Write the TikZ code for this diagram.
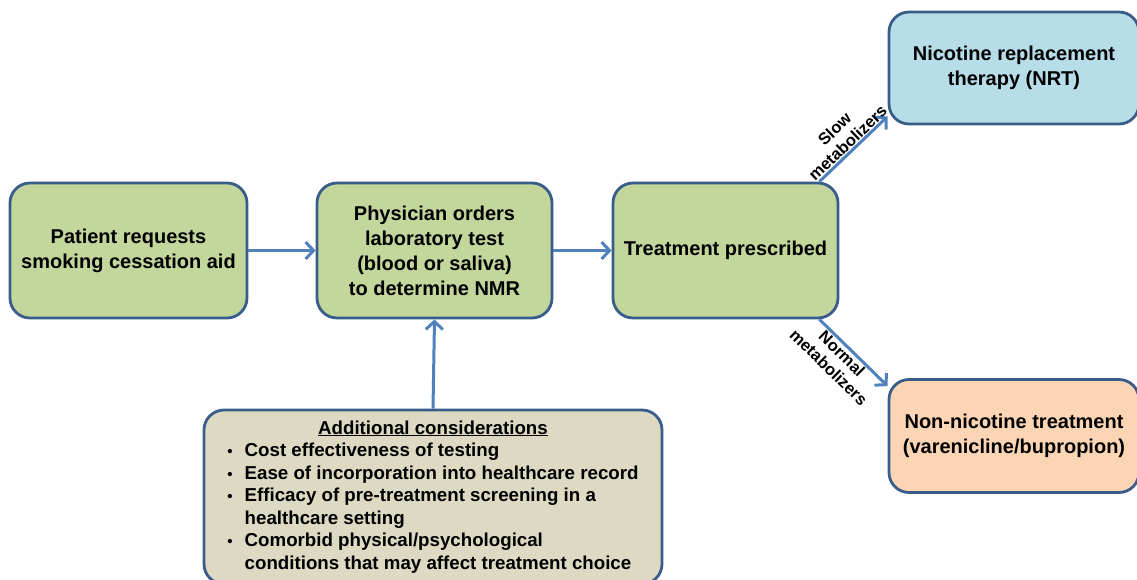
\documentclass[tikz,border=0pt]{standalone}
\usepackage{fontspec}
\setmainfont{Liberation Sans}
\usetikzlibrary{arrows.meta}

\definecolor{boxline}{RGB}{56,93,138}
\definecolor{linkblue}{RGB}{79,129,189}
\definecolor{greenfill}{RGB}{195,214,155}
\definecolor{bluefill}{RGB}{183,221,232}
\definecolor{peachfill}{RGB}{252,213,181}
\definecolor{tanfill}{RGB}{221,217,195}

\newcommand{\bul}{{\fontsize{15}{15}\selectfont\textbullet}}

\begin{document}
\begin{tikzpicture}[x=1pt, y=-1pt,
  box/.style = {shape=rectangle, draw=boxline, line width=2.8pt,
    rounded corners=20pt, align=center, inner sep=0pt,
    font=\fontsize{20}{25}\selectfont\bfseries},
  link/.style = {draw=linkblue, line width=3pt,
    -{Straight Barb[length=8pt,width=17pt]}},
  tag/.style = {font=\fontsize{16.5}{19}\selectfont\bfseries, align=center,
    inner sep=1pt, sloped}]
  \useasboundingbox (0,0) rectangle (1137,579);

  \node[box, fill=greenfill, minimum width=237pt, minimum height=135pt] (patient) at (128.5,250.5)
    {Patient requests\\smoking cessation aid};
  \node[box, fill=greenfill, minimum width=235pt, minimum height=135pt] (physician) at (434.5,250.5)
    {Physician orders\\laboratory test\\(blood or saliva)\\to determine NMR};
  \node[box, fill=greenfill, minimum width=225pt, minimum height=135pt] (treat) at (725.5,250.5)
    {Treatment prescribed};
  \node[box, fill=bluefill, minimum width=250pt, minimum height=112pt] (nrt) at (1014,68)
    {Nicotine replacement\\therapy (NRT)};
  \node[box, fill=peachfill, minimum width=250pt, minimum height=113pt] (nonnic) at (1014,436)
    {Non-nicotine treatment\\(varenicline/bupropion)};
  \node[box, fill=tanfill, minimum width=458pt, minimum height=174pt,
    font=\fontsize{18.7}{22.5}\selectfont\bfseries] (extra) at (433,497)
    {\begin{tabular}{@{}c@{\hspace{12pt}}l@{}}
      \multicolumn{2}{c}{\underline{Additional considerations}}\\
      \bul & Cost effectiveness of testing\\
      \bul & Ease of incorporation into healthcare record\\
      \bul & Efficacy of pre-treatment screening in a\\
           & healthcare setting\\
      \bul & Comorbid physical/psychological\\
           & conditions that may affect treatment choice
    \end{tabular}};

  % main flow
  \draw[link] (patient) -- (physician);
  \draw[link] (physician) -- (treat);
  \draw[link] (extra.north) -- (physician.south);
  % branches by metabolizer status
  \draw[link] ([xshift=-20pt]treat.north east) -- ([yshift=9pt]nrt.south west)
    node[tag, midway, above] (slow) {Slow\\metabolizers};
  \draw[link] ([xshift=-20pt]treat.south east) -- ([yshift=-8pt]nonnic.north west)
    node[tag, pos=0.42, below] (normal) {Normal\\metabolizers};
\end{tikzpicture}
\end{document}
